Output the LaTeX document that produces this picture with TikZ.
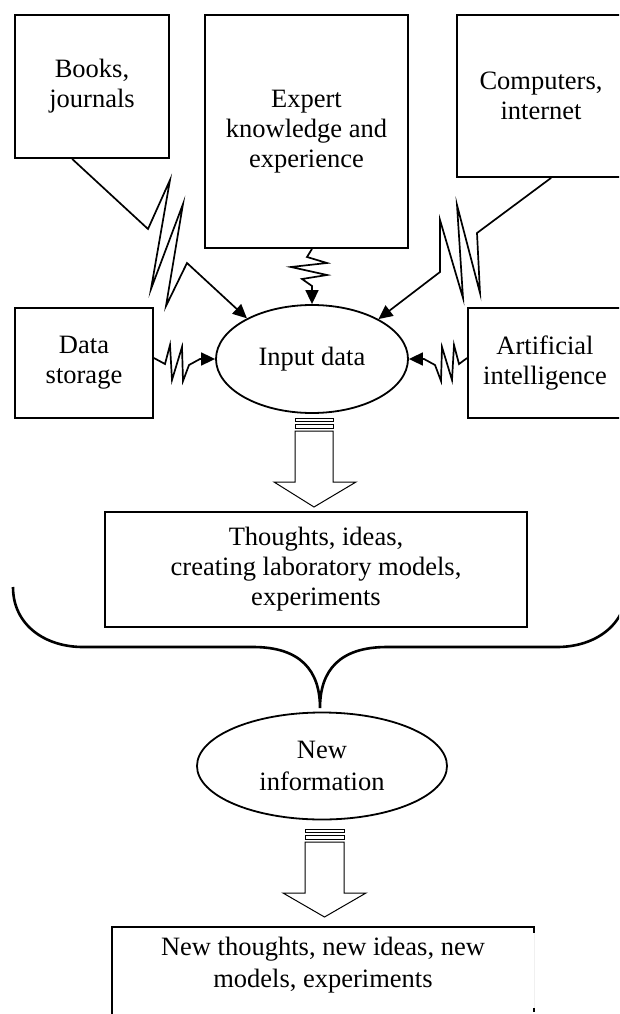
\documentclass[tikz,border=0pt]{standalone}
\usepackage{fontspec}
\setmainfont{Liberation Serif}
\usetikzlibrary{arrows.meta,shapes.geometric,calc}
\begin{document}
\begin{tikzpicture}[x=1pt,y=-1pt,
  txt/.style={align=center, font=\fontsize{26.5}{30}\selectfont},
  box/.style={txt, draw, line width=1.8pt, inner sep=0pt},
  oval/.style={txt, ellipse, draw, line width=1.8pt, inner sep=0pt},
  bolt/.style={line width=1.7pt, line join=miter, miter limit=20},
  boltarrow/.style={bolt, -{Triangle[length=14pt,width=13pt]}},
  fat/.style={line width=1pt, line join=miter},
  brace/.style={line width=2.6pt}]
\useasboundingbox (0,0) rectangle (619,1014);
\clip (0,0) rectangle (619,1014);

% sources
\node[box, minimum width=154, minimum height=143] (books) at (92,86.5) {Books,\\journals};
\node[box, minimum width=203, minimum height=233] (expert) at (306.5,131.5) {Expert\\knowledge and\\experience};
\node[box, minimum width=168, minimum height=162] (comp) at (541,96) {Computers,\\internet};
\node[box, minimum width=138, minimum height=110] (store) at (84,363) {Data\\storage};
\node[box, minimum width=154, minimum height=110] (ai) at (545,363) {Artificial\\intelligence};

% central data
\node[oval, minimum width=192, minimum height=108] (inp) at (312,359) {Input data};

\node[box, line width=1.3pt, minimum width=422, minimum height=115] (thought) at (316,569.5)
  {Thoughts, ideas,\\creating laboratory models,\\experiments};

\node[oval, minimum width=250, minimum height=107, font=\fontsize{26.5}{32}\selectfont] (newinfo) at (322,766) {New\\information};

\node[txt, minimum width=422, minimum height=76, inner sep=0pt, font=\fontsize{26.5}{32}\selectfont] (fin) at (323,965)
  {New thoughts, new ideas, new\\models, experiments};

% lightning connectors
\draw[boltarrow] ($(books.south west)+(58,0)$) -- (148,229) -- (170,180) -- (151,289)
  -- (183,204) -- (166,306) -- (187,263) -- (inp.148);
\draw[boltarrow] ($(comp.south west)+(95,0)$) -- (477,233) -- (480,293) -- (457,205)
  -- (463,298) -- (440,220) -- (440,272) -- (inp.31);
\draw[boltarrow] ($(expert.south)+(5.5,0)$) -- (307,257) -- (327,263) -- (291,267)
  -- (327,275) -- (302,279) -- (312,286) -- (inp.north);
\draw[boltarrow] ($(store.east)+(0,-5)$) -- (165,364) -- (170,345) -- (172,380) -- (182,347)
  -- (183,381) -- (189,365) -- (200,359) -- (inp.west);
\draw[boltarrow] ($(ai.west)+(0,-5)$) -- (459,364) -- (454,345) -- (452,380) -- (442,347)
  -- (441,381) -- (435,365) -- (424,359) -- (inp.east);

% striped block arrow: input data -> thoughts
\draw[fat] (295,418) rectangle (333,421);
\draw[fat] (295,424) rectangle (333,428);
\draw[fat] (295,431) -- (333,431) -- (333,482) -- (356,482) -- (314,507) -- (274,482) -- (295,482) -- cycle;

% brace gathering the thoughts
\draw[brace] (13,587) .. controls (13,625) and (45,647) .. (83,647) -- (253,647)
  .. controls (300,647) and (320,670) .. (320,708)
  .. controls (320,670) and (340,647) .. (387,647) -- (557,647)
  .. controls (595,647) and (627,625) .. (627,587);

% striped block arrow: new information -> result
\draw[fat] (305,829) rectangle (344,832);
\draw[fat] (305,835) rectangle (344,839);
\draw[fat] (305,842) -- (344,842) -- (344,893) -- (366,893) -- (324.5,917) -- (283,893) -- (305,893) -- cycle;

% open frame of the result box
\draw[line width=1.8pt] ($(fin.north west)+(0,100)$) -- (fin.north west) -- (fin.north east) -- ($(fin.north east)+(0,6)$);
\draw[black!6, line width=1pt] ($(fin.north east)+(0,6)$) -- ($(fin.north east)+(0,81)$);
\draw[line width=1.8pt] ($(fin.north east)+(0,81)$) -- ($(fin.north east)+(0,85)$);
\end{tikzpicture}
\end{document}
